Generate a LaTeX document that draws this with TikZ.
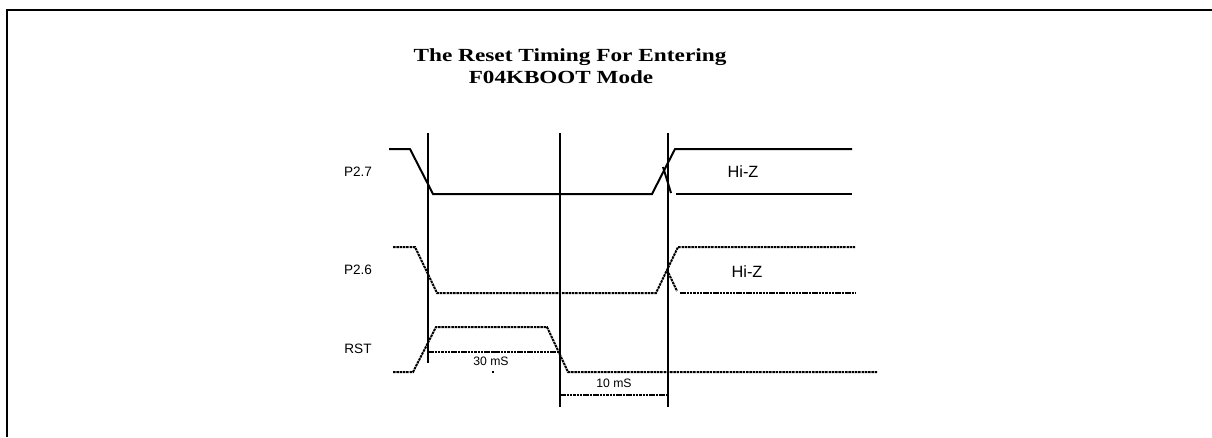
\documentclass[tikz,border=0pt]{standalone}
\usepackage{fontspec}
\usepackage{graphicx}
\setmainfont{Liberation Serif}
\newfontfamily\arialf{Liberation Sans}
\begin{document}
\begin{tikzpicture}[x=1pt,y=-1pt,
  sig/.style={line width=2pt},
  dsig/.style={line width=2pt,dash pattern=on 2.5pt off 0.8pt},
  vline/.style={line width=2pt},
  lbl/.style={font=\arialf\fontsize{13.6}{16}\selectfont,inner sep=0pt},
  hiz/.style={font=\arialf\fontsize{16.3}{18}\selectfont,inner sep=0pt},
  dimlbl/.style={font=\arialf\fontsize{12.2}{14}\selectfont,inner sep=0pt},
  ttl/.style={font=\bfseries\fontsize{18.5}{20}\selectfont,inner sep=0pt}]
\useasboundingbox (0,0) rectangle (1212,437);
% frame
\coordinate (fa) at (1212,10);
\coordinate (fb) at (7,10);
\coordinate (fc) at (7,437);
\draw[line width=2pt] (fa) -- (fb) -- (fc);
% title
\node[ttl] (t1) at (570,57) {\scalebox{1.26}[1]{The Reset Timing For Entering}};
\node[ttl] (t2) at (561,77) {\scalebox{1.25}[1]{F04KBOOT Mode}};
% vertical markers
\coordinate (v1t) at (428,133); \coordinate (v1b) at (428,363);
\coordinate (v2t) at (560,133); \coordinate (v2b) at (560,407);
\coordinate (v3t) at (668,133); \coordinate (v3b) at (668,407);
\draw[vline] (v1t) -- (v1b);
\draw[vline] (v2t) -- (v2b);
\draw[vline] (v3t) -- (v3b);
% labels
\node[lbl] (l1) at (358,172) {P2.7};
\node[lbl] (l2) at (358,270) {P2.6};
\node[lbl] (l3) at (358,349) {RST};
\node[hiz] (h1) at (743,172) {Hi-Z};
\node[hiz] (h2) at (747,272) {Hi-Z};
% P2.7
\draw[sig] (389,149) -- (410,149) -- (433,194) -- (652,194) -- (675,149) -- (852,149);
\draw[sig] (663,167) -- (671,193);
\draw[sig] (676,194) -- (852,194);
% P2.6
\draw[dsig] (393,247) -- (415,247) -- (437,293) -- (656,293) -- (678,247) -- (855,247);
\draw[dsig] (667,270) -- (677,291);
\draw[dsig] (680,293) -- (855,293);
% RST
\draw[dsig] (393,372) -- (413,372) -- (436,327) -- (547,327) -- (568,372) -- (877,372);
% dimensions
\draw[dsig] (v1b |- 0,352) -- (v2b |- 0,352);
\draw[dsig] (v2b |- 0,395) -- (v3b |- 0,395);
\node[dimlbl] (d30) at (491,361) {30 mS};
\node[dimlbl] (d10) at (614,383) {10 mS};
\fill (492,351) rectangle (494,353);
\fill (492,371) rectangle (494,373);
\end{tikzpicture}
\end{document}
